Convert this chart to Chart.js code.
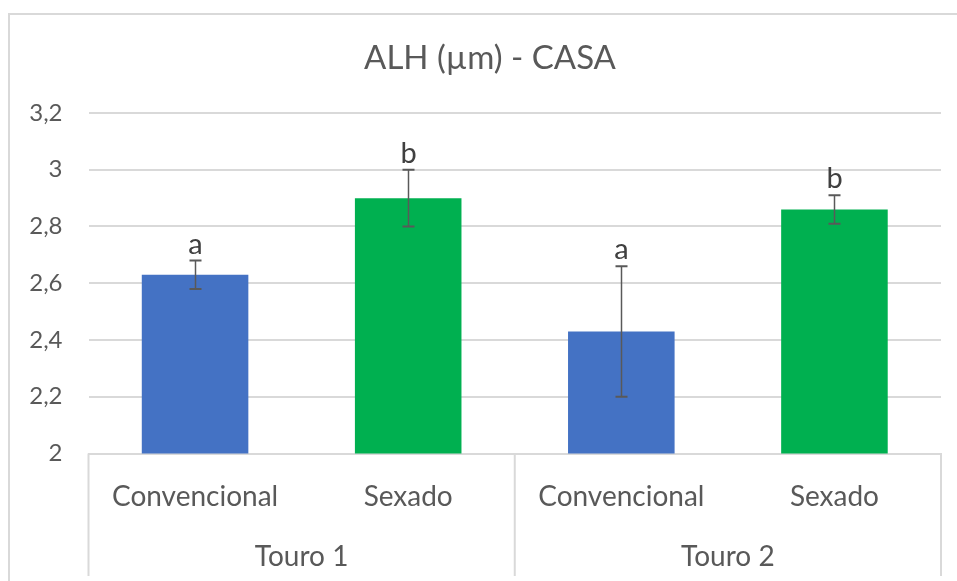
<!DOCTYPE html>
<html>
<head>
<meta charset="utf-8">
<script src="https://cdn.jsdelivr.net/npm/chart.js@4"></script>
<style>
  html, body { margin: 0; padding: 0; background: #ffffff; }
  canvas { display: block; }
</style>
</head>
<body>
<canvas id="chart" width="957" height="581"></canvas>
<script>
// ALH (amplitude of lateral head displacement) measured by CASA, per bull and semen type
const titleText = 'ALH (µm) - CASA';
const groups = ['Touro 1', 'Touro 2'];
const categories = ['Convencional', 'Sexado', 'Convencional', 'Sexado'];
const means = [2.63, 2.90, 2.43, 2.86];
const errors = [0.05, 0.10, 0.23, 0.05];
const letters = ['a', 'b', 'a', 'b'];
const yMin = 2;
const yMax = 3.2;
const yStep = 0.2;

const FONT = 'Lato, "Open Sans", sans-serif';
const TEXT = '#595959';
const GRID = '#d9d9d9';
const COLORS = { 'Convencional': '#4472C4', 'Sexado': '#00B050' };

// white background and the light outer frame of the chart
const frame = {
  id: 'frame',
  beforeDraw(chart) {
    const { ctx, width, height } = chart;
    ctx.save();
    ctx.fillStyle = '#ffffff';
    ctx.fillRect(0, 0, width, height);
    ctx.strokeStyle = GRID;
    ctx.lineWidth = 2;
    ctx.strokeRect(9, 14, width + 20, height + 20);
    ctx.restore();
  }
};

// chart title
const titlePlugin = {
  id: 'titleText',
  afterDraw(chart) {
    const { ctx } = chart;
    ctx.save();
    ctx.fillStyle = TEXT;
    ctx.font = '33px ' + FONT;
    ctx.textAlign = 'center';
    ctx.textBaseline = 'alphabetic';
    ctx.fillText(titleText, 490, 69);
    ctx.restore();
  }
};

// error bars and significance letters above each bar
const errorBars = {
  id: 'errorBars',
  afterDatasetsDraw(chart) {
    const { ctx } = chart;
    const y = chart.scales.y;
    const meta = chart.getDatasetMeta(0);
    ctx.save();
    meta.data.forEach((bar, i) => {
      const x = Math.round(bar.x) + 0.5;
      const hi = y.getPixelForValue(means[i] + errors[i]);
      const lo = y.getPixelForValue(means[i] - errors[i]);
      ctx.strokeStyle = '#595959';
      ctx.lineWidth = 1.5;
      ctx.beginPath();
      ctx.moveTo(x, hi);
      ctx.lineTo(x, lo);
      ctx.stroke();
      ctx.lineWidth = 2;
      ctx.beginPath();
      ctx.moveTo(x - 6, hi); ctx.lineTo(x + 6, hi);
      ctx.moveTo(x - 6, lo); ctx.lineTo(x + 6, lo);
      ctx.stroke();
      ctx.fillStyle = '#404040';
      ctx.font = '29px ' + FONT;
      ctx.textAlign = 'center';
      ctx.textBaseline = 'alphabetic';
      ctx.fillText(letters[i], x, hi - 7);
    });
    ctx.restore();
  }
};

// second level of the category axis: bull names and separators
const groupAxis = {
  id: 'groupAxis',
  afterDraw(chart) {
    const { ctx } = chart;
    const x = chart.scales.x;
    const per = categories.length / groups.length;
    const half = (x.getPixelForValue(1) - x.getPixelForValue(0)) / 2;
    const top = chart.chartArea.bottom;
    ctx.save();
    ctx.strokeStyle = GRID;
    ctx.lineWidth = 2;
    ctx.beginPath();
    for (let g = 0; g <= groups.length; g++) {
      const idx = g * per;
      const px = idx < categories.length
        ? x.getPixelForValue(idx) - half
        : x.getPixelForValue(categories.length - 1) + half;
      ctx.moveTo(px, top);
      ctx.lineTo(px, 576);
    }
    ctx.stroke();
    ctx.fillStyle = TEXT;
    ctx.font = '28px ' + FONT;
    ctx.textAlign = 'center';
    ctx.textBaseline = 'middle';
    groups.forEach((name, g) => {
      const a = x.getPixelForValue(g * per);
      const b = x.getPixelForValue(g * per + per - 1);
      ctx.fillText(name, (a + b) / 2, 557);
    });
    ctx.restore();
  }
};

new Chart(document.getElementById('chart'), {
  type: 'bar',
  data: {
    labels: categories,
    datasets: [{
      data: means,
      backgroundColor: categories.map(c => COLORS[c]),
      borderWidth: 0,
      barPercentage: 0.5,
      categoryPercentage: 1
    }]
  },
  options: {
    responsive: false,
    animation: false,
    devicePixelRatio: 1,
    layout: { padding: { top: 113, right: 16, left: 0, bottom: 0 } },
    plugins: {
      legend: { display: false },
      tooltip: { enabled: false },
      title: { display: false }
    },
    scales: {
      x: {
        grid: { display: false, drawTicks: false },
        border: { display: true, color: GRID, width: 2 },
        ticks: { color: TEXT, font: { family: FONT, size: 28 }, padding: 27, maxRotation: 0 },
        afterFit(axis) { axis.height = 127.5; }
      },
      y: {
        min: yMin,
        max: yMax,
        grid: { color: GRID, lineWidth: 2, drawTicks: false },
        border: { display: false },
        ticks: {
          stepSize: yStep,
          color: TEXT,
          font: { family: FONT, size: 24 },
          padding: 26,
          callback: v => String(Number(v.toFixed(1))).replace('.', ',')
        },
        afterFit(axis) { axis.width = 88.5; }
      }
    }
  },
  plugins: [frame, errorBars, groupAxis, titlePlugin]
});
</script>
</body>
</html>
